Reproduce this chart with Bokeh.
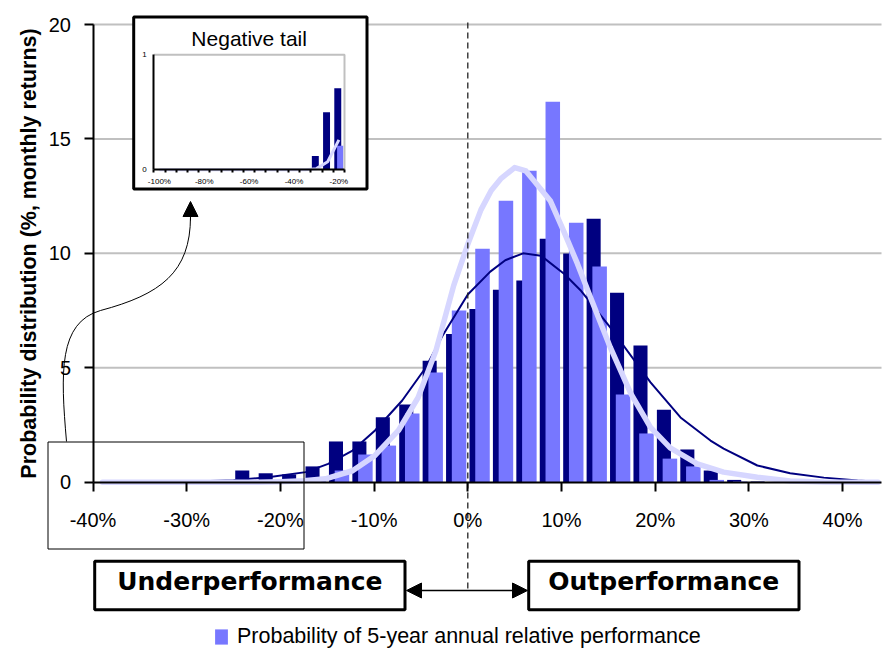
from bokeh.plotting import figure
from bokeh.models import (Range1d, LinearAxis, FixedTicker, ColumnDataSource, Arrow,
                          NormalHead, Legend, LegendItem)
from bokeh.transform import dodge
from bokeh.core.properties import value
from bokeh.embed import file_html
from bokeh.resources import INLINE

# ---------------- data ----------------
bins = [-23.75, -21.25, -18.75, -16.25, -13.75, -11.25, -8.75, -6.25, -3.75, -1.25,
        1.25, 3.75, 6.25, 8.75, 11.25, 13.75, 16.25, 18.75, 21.25, 23.75, 26.25, 28.75, 31.25]
dark_bars = [0.51, 0.39, 0.34, 0.69, 1.78, 1.78, 2.84, 3.39, 5.31, 6.48,
             7.57, 8.41, 8.81, 10.64, 9.99, 11.51, 8.28, 5.97, 3.17, 1.43, 0.51, 0.10, 0.03]
light_bars = [0.0, 0.0, 0.04, 0.08, 0.51, 1.21, 1.60, 3.00, 4.79, 7.50,
              10.20, 12.30, 13.61, 16.62, 11.34, 9.42, 3.83, 2.13, 1.03, 0.69, 0.10, 0.03, 0.0]

dark_curve_x = [-39, -30, -25, -21.3, -17.3, -14.9, -12.3, -9.9, -7.0, -4.5, -2.7, 0, 2.4,
                4.0, 5.9, 7.8, 10.3, 12.0, 15.2, 19.5, 22.7, 25.9, 27.3, 30.9, 34.4, 38.0,
                41.6, 43.8]
dark_curve_y = [0.0, 0.02, 0.08, 0.22, 0.44, 0.80, 1.38, 2.26, 3.57, 5.00, 6.40, 8.20, 9.20,
                9.70, 10.00, 9.90, 9.10, 8.40, 6.76, 4.36, 2.83, 1.82, 1.47, 0.73, 0.39, 0.20,
                0.07, 0.02]
light_curve_x = [-39, -30, -22.5, -20, -17.5, -15.2, -12.3, -9.9, -7.4, -5.3, -3.4, -1.5, 0,
                 1.4, 2.5, 3.5, 5.0, 6.2, 7.0, 8.8, 10.2, 11.7, 13.1, 15.2, 17.4, 19.5, 21.6,
                 24.5, 27.3, 30.9, 34.4, 38.0, 43.8]
light_curve_y = [0.0, 0.0, 0.0, 0.02, 0.06, 0.15, 0.50, 1.17, 2.26, 3.70, 5.75, 8.60, 10.40,
                 11.90, 12.75, 13.25, 13.75, 13.60, 13.20, 12.30, 11.00, 9.55, 8.07, 5.90, 3.87,
                 2.40, 1.50, 0.80, 0.44, 0.22, 0.05, 0.01, 0.0]

x_ticks = [-40, -30, -20, -10, 0, 10, 20, 30, 40]
x_tick_labels = ["-40%", "-30%", "-20%", "-10%", "0%", "10%", "20%", "30%", "40%"]
y_ticks = [0, 5, 10, 15, 20]
grid_values = [5, 10, 15, 20]

inset_bins = [-100, -95, -90, -85, -80, -75, -70, -65, -60, -55, -50, -45, -40, -35, -30, -25, -20]
inset_dark = [0, 0, 0, 0, 0, 0, 0, 0, 0, 0, 0, 0, 0, 0, 0.12, 0.50, 0.71]
inset_light = [0, 0, 0, 0, 0, 0, 0, 0, 0, 0, 0, 0, 0, 0, 0, 0, 0.21]
inset_curve = [0, 0, 0, 0, 0, 0, 0, 0, 0, 0, 0, 0, 0, 0, 0.01, 0.07, 0.26]
inset_ticks = [-100, -80, -60, -40, -20]
inset_tick_labels = ["-100%", "-80%", "-60%", "-40%", "-20%"]
inset_minor = [-102.5, -97.5, -92.5, -87.5, -82.5, -77.5, -72.5, -67.5, -62.5, -57.5,
               -52.5, -47.5, -42.5, -37.5, -32.5, -27.5, -22.5, -17.5]
inset_y_ticks = [0, 1]

legend_label = "Probability of 5-year annual relative performance"

# ---------------- layout (page pixels) ----------------
DARK = "#000080"
LIGHT = "#7777FF"
LAV = "#D6D6FF"
FONT = "Liberation Sans"
W, H = 882, 655
OFF = 0
X0_PX, XS = 467.3, 9.37      # page x of 0 %, px per %
Y0_PX, YS = 481.7, 22.885    # page y of 0, px per unit
IXL_PX, IXR_PX = 153.3, 344.0   # inset plot left/right (page)
IXL, IXR = -102.5, -17.5
IY0_PX, IYS = 169.3, 115.0

def px_x(px):
    return (px - X0_PX) / XS

def px_y(py):
    return (Y0_PX - py) / YS

IXS = (IXR_PX - IXL_PX) / (IXR - IXL)

x_start, x_end = px_x(OFF), px_x(OFF + W)
y_end, y_start = px_y(OFF), px_y(OFF + H)

p = figure(width=W, height=H, output_backend="svg", toolbar_location=None,
           x_range=Range1d(x_start, x_end), y_range=Range1d(y_start, y_end),
           x_axis_type=None, y_axis_type=None,
           min_border=0, min_border_left=0, min_border_right=0,
           min_border_top=0, min_border_bottom=0,
           outline_line_color=None, background_fill_color="white",
           border_fill_color="white")

p.extra_x_ranges = {"ix": Range1d(IXL + (OFF - IXL_PX) / IXS, IXL + (OFF + W - IXL_PX) / IXS)}
p.extra_y_ranges = {"iy": Range1d((IY0_PX - OFF - H) / IYS, (IY0_PX - OFF) / IYS)}

# grid lines
p.segment(x0=[-40] * len(grid_values), x1=[px_x(881)] * len(grid_values),
          y0=grid_values, y1=grid_values, line_color="#C0C0C0", line_width=2)

# bars
src = ColumnDataSource(dict(x=bins, dark=dark_bars, light=light_bars))
p.vbar(x=dodge("x", -0.32), top="dark", width=1.5, bottom=0, source=src,
       fill_color=DARK, line_color=None)
light_r = p.vbar(x=dodge("x", 0.32), top="light", width=1.55, bottom=0, source=src,
                 fill_color=LIGHT, line_color=None)

# curves
p.line(dark_curve_x, dark_curve_y, line_color=DARK, line_width=2, line_join="round")
p.line(light_curve_x, light_curve_y, line_color=LAV, line_width=5.5, line_join="round",
       line_cap="round")

# dashed zero line
p.segment(x0=[0], x1=[0], y0=[px_y(22)], y1=[px_y(588)], line_color="#222222",
          line_width=1.3, line_dash="6 4")

# small rectangle marking the tail region
p.quad(left=[px_x(47.5)], right=[px_x(303.5)], top=[px_y(441.5)], bottom=[px_y(548.5)],
       fill_color=None, line_color="black", line_width=1)

# curved connector
p.bezier(x0=[px_x(66)], y0=[px_y(441)], x1=[px_x(100)], y1=[px_y(310)],
         cx0=[px_x(60)], cy0=[px_y(372)], cx1=[px_x(58)], cy1=[px_y(322)],
         line_color="black", line_width=1)
p.bezier(x0=[px_x(100)], y0=[px_y(310)], x1=[px_x(190)], y1=[px_y(216)],
         cx0=[px_x(160)], cy0=[px_y(294)], cx1=[px_x(190)], cy1=[px_y(272)],
         line_color="black", line_width=1)
p.add_layout(Arrow(end=NormalHead(size=15, fill_color="black", line_color="black"),
                   x_start=px_x(190), y_start=px_y(220), x_end=px_x(190), y_end=px_y(201),
                   line_color="black", line_width=1))

# inset box
p.quad(left=[px_x(133.2)], right=[px_x(366.5)], top=[px_y(16.5)], bottom=[px_y(188.5)],
       fill_color="white", line_color="black", line_width=3)
isrc = ColumnDataSource(dict(x=inset_bins, dark=inset_dark, light=inset_light, c=inset_curve))
p.line(x=[IXL, IXR, IXR], y=[1, 1, 0], x_range_name="ix", y_range_name="iy",
       line_color="#C0C0C0", line_width=2)
p.vbar(x=dodge("x", -0.5), top="dark", width=3.1, bottom=0, source=isrc,
       x_range_name="ix", y_range_name="iy", fill_color=DARK, line_color=None)
p.vbar(x=dodge("x", 0.55), top="light", width=2.7, bottom=0, source=isrc,
       x_range_name="ix", y_range_name="iy", fill_color=LIGHT, line_color=None)
p.line(x="x", y="c", source=isrc, x_range_name="ix", y_range_name="iy",
       line_color=LAV, line_width=3)
p.text(x=[(IXL + IXR) / 2], y=[(IY0_PX - 37.5) / IYS], text=["Negative tail"],
       x_range_name="ix", y_range_name="iy", text_font=value(FONT),
       text_font_size="21px", text_align="center", text_baseline="middle",
       text_color="black")

# bottom boxes
p.quad(left=[px_x(94.2), px_x(528.2)], right=[px_x(404.5), px_x(798.5)],
       top=[px_y(560.8)] * 2, bottom=[px_y(609.2)] * 2,
       fill_color="white", line_color="black", line_width=3)
p.text(x=[px_x(249.4), px_x(663.3)], y=[px_y(580.5)] * 2,
       text=["Underperformance", "Outperformance"], text_font=value("DejaVu Sans"),
       text_font_style="bold", text_font_size="25px", text_align="center",
       text_baseline="middle", text_color="black")
p.add_layout(Arrow(start=NormalHead(size=15, fill_color="black", line_color="black"),
                   end=NormalHead(size=15, fill_color="black", line_color="black"),
                   x_start=px_x(406), y_start=px_y(590), x_end=px_x(527), y_end=px_y(590),
                   line_color="black", line_width=1.3))

# main axes
xaxis = LinearAxis(fixed_location=0, bounds=(-40, px_x(881)),
                   ticker=FixedTicker(ticks=x_ticks, minor_ticks=[]),
                   major_label_overrides={t: s for t, s in zip(x_ticks, x_tick_labels)})
yaxis = LinearAxis(fixed_location=-40, bounds=(0, 20),
                   ticker=FixedTicker(ticks=y_ticks, minor_ticks=[]),
                   axis_label="Probability distribution (%, monthly returns)")
for ax in (xaxis, yaxis):
    ax.axis_line_width = 2
    ax.axis_line_color = "black"
    ax.major_tick_line_width = 2
    ax.major_tick_out = 9
    ax.major_tick_in = 0
    ax.minor_tick_line_color = None
    ax.major_label_text_font = FONT
    ax.major_label_text_font_size = "20px"
    ax.major_label_text_color = "black"
xaxis.major_label_standoff = 18
yaxis.major_label_standoff = 13
yaxis.axis_label_text_font = FONT
yaxis.axis_label_text_font_size = "21.5px"
yaxis.axis_label_text_font_style = "bold"
yaxis.axis_label_text_color = "black"
yaxis.axis_label_standoff = 5
p.add_layout(xaxis, "below")
p.add_layout(yaxis, "left")

# inset axes
ixaxis = LinearAxis(x_range_name="ix", y_range_name="iy", fixed_location=0,
                    bounds=(IXL, IXR),
                    ticker=FixedTicker(ticks=inset_ticks, minor_ticks=inset_minor),
                    major_label_overrides={t: s for t, s in zip(inset_ticks, inset_tick_labels)})
ixaxis.major_tick_out = 0
ixaxis.major_tick_in = 0
ixaxis.minor_tick_out = 3
ixaxis.minor_tick_in = 0
ixaxis.minor_tick_line_width = 2
ixaxis.major_label_standoff = 4
iyaxis = LinearAxis(x_range_name="ix", y_range_name="iy", fixed_location=IXL,
                    bounds=(0, 1), ticker=FixedTicker(ticks=inset_y_ticks, minor_ticks=[]))
iyaxis.major_tick_out = 0
iyaxis.major_tick_in = 0
iyaxis.minor_tick_line_color = None
iyaxis.major_label_standoff = 7
for ax in (ixaxis, iyaxis):
    ax.axis_line_width = 2
    ax.axis_line_color = "black"
    ax.major_label_text_font = FONT
    ax.major_label_text_font_size = "8px"
    ax.major_label_text_color = "black"
p.add_layout(ixaxis, "below")
p.add_layout(iyaxis, "left")

# legend
legend = Legend(items=[LegendItem(label=legend_label, renderers=[light_r])],
                location=(213, 6), orientation="horizontal",
                label_text_font=FONT, label_text_font_size="21.5px",
                label_text_color="black", glyph_width=16, glyph_height=19,
                label_standoff=8, padding=0, margin=0, spacing=0,
                border_line_color=None, background_fill_alpha=0)
p.add_layout(legend)

open("out.html", "w").write(file_html(p, INLINE))
